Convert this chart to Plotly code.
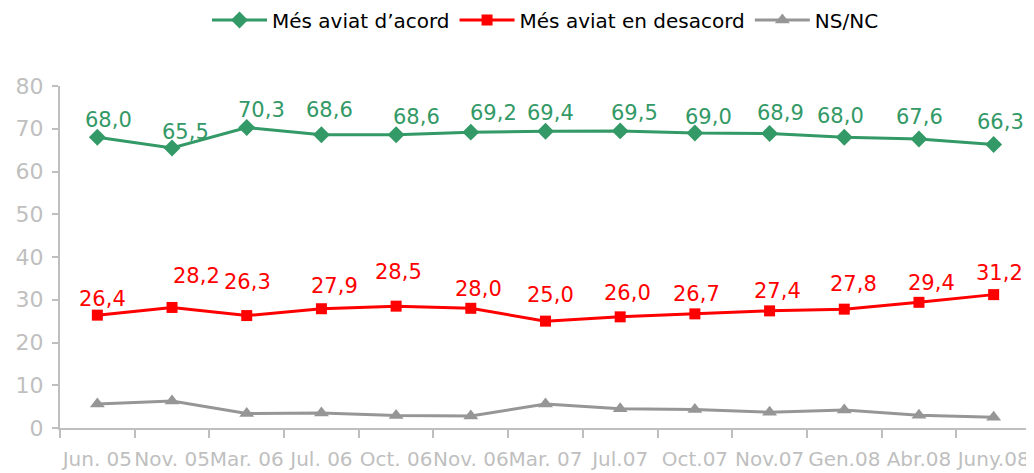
import plotly.graph_objects as go

categories = ["Jun. 05", "Nov. 05", "Mar. 06", "Jul. 06", "Oct. 06", "Nov. 06",
              "Mar. 07", "Jul.07", "Oct.07", "Nov.07", "Gen.08", "Abr.08", "Juny.08"]
acord = [68.0, 65.5, 70.3, 68.6, 68.6, 69.2, 69.4, 69.5, 69.0, 68.9, 68.0, 67.6, 66.3]
desacord = [26.4, 28.2, 26.3, 27.9, 28.5, 28.0, 25.0, 26.0, 26.7, 27.4, 27.8, 29.4, 31.2]
nsnc = [5.6, 6.3, 3.4, 3.5, 2.9, 2.8, 5.6, 4.5, 4.3, 3.7, 4.2, 3.0, 2.5]
y_ticks = [0, 10, 20, 30, 40, 50, 60, 70, 80]

GREEN = "#339966"
RED = "#FF0000"
GRAY = "#969696"
AXIS = "#BFBFBF"
FONT = "DejaVu Sans, Liberation Sans, Arial, sans-serif"

# label offsets (pixels) - styling only
g_dx = [11, 13, 15, 8, 20, 23, 5, 14, 14, 11, -4, 1, 7]
g_dy = [17, 16, 17, 25, 18, 19, 18, 18, 16, 20, 21, 22, 23]
r_dx = [5, 24, 1, 13, 2, 8, 5, 7, 2, 8, 9, 13, 6]
r_dy = [16, 31, 34, 23, 34, 19, 26, 24, 20, 20, 25, 19, 22]

fig = go.Figure()
fig.add_trace(go.Scatter(x=categories, y=acord, name="Més aviat d’acord", mode="lines+markers",
                         line=dict(color=GREEN, width=3),
                         marker=dict(symbol="diamond", size=13, color=GREEN)))
fig.add_trace(go.Scatter(x=categories, y=desacord, name="Més aviat en desacord", mode="lines+markers",
                         line=dict(color=RED, width=3),
                         marker=dict(symbol="square", size=11, color=RED)))
fig.add_trace(go.Scatter(x=categories, y=nsnc, name="NS/NC", mode="lines+markers",
                         line=dict(color=GRAY, width=3),
                         marker=dict(symbol="triangle-up", size=13, color=GRAY)))

ann = []
def fmt(v):
    return f"{v:.1f}".replace(".", ",")
for i, c in enumerate(categories):
    ann.append(dict(x=c, y=acord[i], text=fmt(acord[i]), showarrow=False,
                    xshift=g_dx[i], yshift=g_dy[i],
                    font=dict(family=FONT, size=21, color=GREEN)))
    ann.append(dict(x=c, y=desacord[i], text=fmt(desacord[i]), showarrow=False,
                    xshift=r_dx[i], yshift=r_dy[i],
                    font=dict(family=FONT, size=21, color=RED)))

# page body has an 8px margin; size the figure to fit the visible window
W, H = 1026, 465
fig.update_layout(
    width=W, height=H,
    margin=dict(l=52, r=3, t=78, b=45, autoexpand=False),
    paper_bgcolor="white", plot_bgcolor="white",
    font=dict(family=FONT, color=AXIS),
    showlegend=True,
    legend=dict(orientation="h", x=0.5, xanchor="center", y=1 - 12 / H, yref="container",
                yanchor="middle",
                font=dict(family=FONT, size=20, color="#000000"),
                itemwidth=55, tracegroupgap=0),
    annotations=ann,
    xaxis=dict(type="category", range=[-0.5, 12.5], showgrid=False, zeroline=False,
               showline=True, linecolor=AXIS, linewidth=2,
               ticks="outside", tickson="boundaries", ticklen=8, tickcolor=AXIS, tickwidth=2,
               ticklabelstandoff=12,
               tickangle=0, tickfont=dict(family=FONT, size=20, color=AXIS)),
    yaxis=dict(range=[0, 80], tickvals=y_ticks, showgrid=False, zeroline=False,
               showline=True, linecolor=AXIS, linewidth=2,
               ticks="outside", ticklen=6, tickcolor=AXIS, tickwidth=2,
               ticklabelstandoff=4,
               tickfont=dict(family=FONT, size=22, color=AXIS)),
)

fig.write_html("out.html")
